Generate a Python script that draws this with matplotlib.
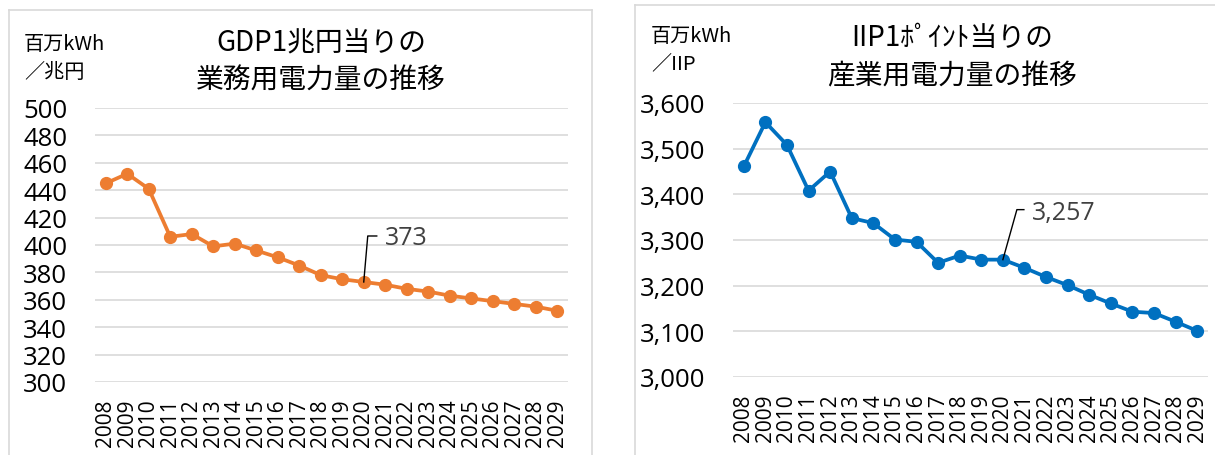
import matplotlib
matplotlib.use("Agg")
import matplotlib.pyplot as plt
from matplotlib.ticker import FuncFormatter

plt.rcParams['font.family'] = ['Noto Sans CJK JP', 'DejaVu Sans']

# ---- data ----
years = [str(y) for y in range(2008, 2030)]
gdp_values = [445, 452, 441, 406, 408, 399, 401, 396, 391, 385, 378,
              375, 373, 371, 368, 366, 363, 361, 359, 357, 355, 352]
iip_values = [3461, 3558, 3508, 3408, 3450, 3348, 3337, 3301, 3296, 3250, 3266,
              3257, 3257, 3239, 3219, 3201, 3180, 3161, 3143, 3140, 3121, 3101]
gdp_title = "GDP1兆円当りの\n業務用電力量の推移"
iip_title = "IIP1ﾎﾟｲﾝﾄ当りの\n産業用電力量の推移"
gdp_unit = ["百万kWh", "／兆円"]
iip_unit = ["百万kWh", "／IIP"]
label_year = "2020"

W, H = 1215, 456
fig = plt.figure(figsize=(W / 100, H / 100), dpi=100)


def px_box(x0, y0, x1, y1):
    # pixel box (top-left origin) -> figure fraction rect
    return [x0 / W, 1 - y1 / H, (x1 - x0) / W, (y1 - y0) / H]


def panel_frame(x0, y0, x1, y1):
    ax = fig.add_axes(px_box(x0, y0, x1, y1), zorder=-5)
    ax.set_xticks([])
    ax.set_yticks([])
    for s in ax.spines.values():
        s.set_color('#d9d9d9')
        s.set_linewidth(1.2)
    ax.patch.set_alpha(0)


def draw_chart(rect, values, color, ylim, yticks, fmt, title, title_xy, unit, unit_xy, ann_off):
    ax = fig.add_axes(px_box(*rect))
    idx = list(range(len(years)))
    ax.plot(idx, values, color=color, lw=2.7, marker='o', ms=8.5, zorder=3)
    ax.set_xlim(-0.5, len(years) - 0.5)
    ax.set_ylim(*ylim)
    ax.set_yticks(yticks)
    ax.yaxis.set_major_formatter(FuncFormatter(fmt))
    ax.set_xticks(idx)
    ax.set_xticklabels(years, rotation=90, fontsize=15, color='black')
    ax.tick_params(axis='x', length=0, pad=12)
    ax.tick_params(axis='y', length=0, pad=20, labelsize=18.5, labelcolor='black')
    for lab in ax.get_yticklabels():
        lab.set_fontfamily(['Open Sans', 'DejaVu Sans'])
    for lab in ax.get_xticklabels():
        lab.set_fontfamily(['Open Sans', 'DejaVu Sans'])
    ax.grid(axis='y', color='#d9d9d9', lw=1.2)
    ax.set_axisbelow(True)
    for s in ax.spines.values():
        s.set_visible(False)

    # leader line + data label for one year
    i = years.index(label_year)
    v = values[i]
    px, py = ax.transData.transform((i, v))
    dx1, dy1, dx2, tx, ty = ann_off
    inv = ax.transData.inverted()
    pts = [inv.transform((px, py)), inv.transform((px + dx1, py + dy1)),
           inv.transform((px + dx2, py + dy1))]
    ax.plot([p[0] for p in pts], [p[1] for p in pts], color='black', lw=1, zorder=4,
            clip_on=False)
    tpos = inv.transform((px + tx, py + ty))
    ax.text(tpos[0], tpos[1], fmt(v, None), color='#404040', fontsize=18,
            ha='left', va='center', family=['Open Sans', 'DejaVu Sans'])

    fig.text(title_xy[0] / W, 1 - title_xy[1] / H, title, ha='center', va='center',
             fontsize=20, linespacing=1.35, color='black')
    fig.text(unit_xy[0] / W, 1 - unit_xy[1] / H, unit[0], ha='left', va='center',
             fontsize=14.5, color='black')
    fig.text(unit_xy[0] / W, 1 - unit_xy[2] / H, unit[1], ha='left', va='center',
             fontsize=14.5, color='black')
    return ax


panel_frame(9, 11, 592, 470)
panel_frame(635, 6, 1230, 470)

draw_chart((95, 109, 568, 383), gdp_values, '#ED7D31', (300, 500), list(range(300, 501, 20)),
           lambda v, p: f"{v:.0f}", gdp_title, (321, 62), gdp_unit, (24, 44, 72),
           (4, 46, 13, 21, 44))
draw_chart((733, 104, 1208, 378), iip_values, '#0070C0', (3000, 3600), list(range(3000, 3601, 100)),
           lambda v, p: f"{v:,.0f}", iip_title, (952, 57), iip_unit, (651, 36, 64),
           (14, 50, 21, 29, 47))

fig.savefig("out.png", dpi=100)
